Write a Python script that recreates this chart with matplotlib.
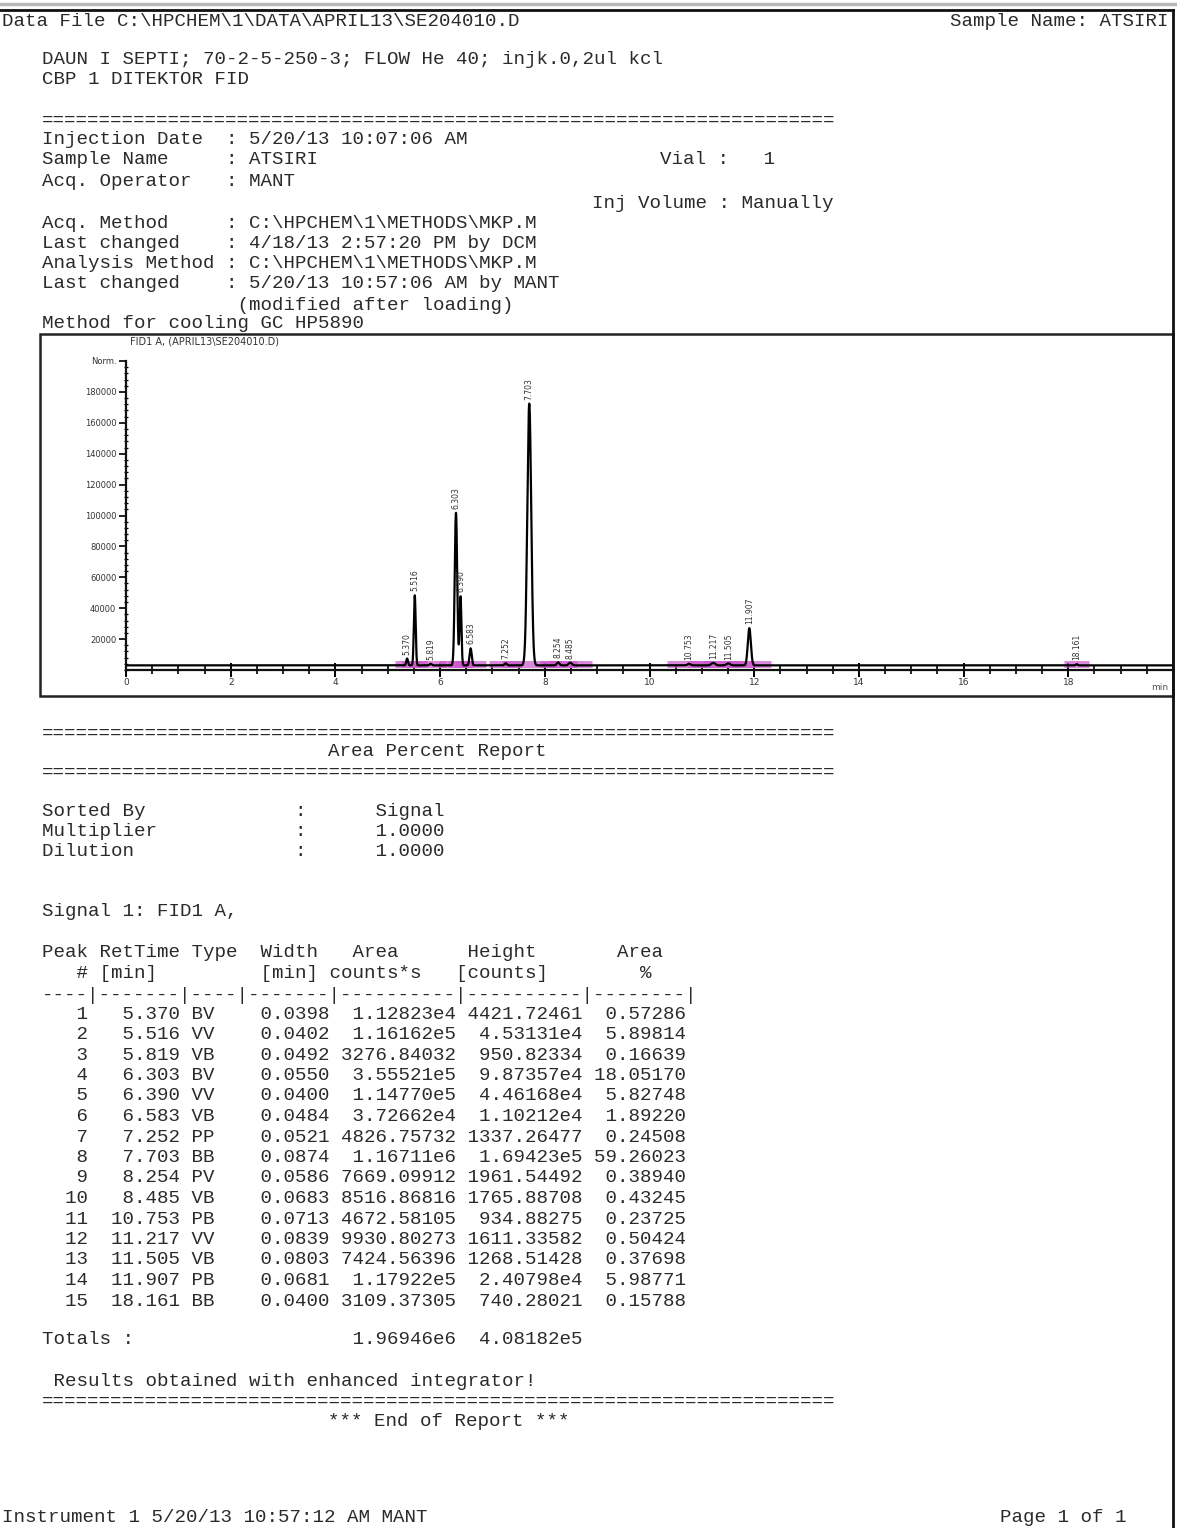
import numpy as np
import matplotlib
matplotlib.use("Agg")
import matplotlib.pyplot as plt
from matplotlib.lines import Line2D
from matplotlib.patches import Rectangle
from matplotlib.ticker import FixedLocator, MultipleLocator

peak_no = list(range(1, 16))
ret_time = [5.370, 5.516, 5.819, 6.303, 6.390, 6.583, 7.252, 7.703, 8.254, 8.485,
            10.753, 11.217, 11.505, 11.907, 18.161]
peak_type = ['BV', 'VV', 'VB', 'BV', 'VV', 'VB', 'PP', 'BB', 'PV', 'VB',
             'PB', 'VV', 'VB', 'PB', 'BB']
peak_width = [0.0398, 0.0402, 0.0492, 0.0550, 0.0400, 0.0484, 0.0521, 0.0874, 0.0586,
              0.0683, 0.0713, 0.0839, 0.0803, 0.0681, 0.0400]
area_txt = ['1.12823e4', '1.16162e5', '3276.84032', '3.55521e5', '1.14770e5', '3.72662e4',
            '4826.75732', '1.16711e6', '7669.09912', '8516.86816', '4672.58105', '9930.80273',
            '7424.56396', '1.17922e5', '3109.37305']
height_txt = ['4421.72461', '4.53131e4', '950.82334', '9.87357e4', '4.46168e4', '1.10212e4',
              '1337.26477', '1.69423e5', '1961.54492', '1765.88708', '934.88275', '1611.33582',
              '1268.51428', '2.40798e4', '740.28021']
area_pct = [0.57286, 5.89814, 0.16639, 18.05170, 5.82748, 1.89220, 0.24508, 59.26023,
            0.38940, 0.43245, 0.23725, 0.50424, 0.37698, 5.98771, 0.15788]
total_area_txt = '1.96946e6'
total_height_txt = '4.08182e5'
baseline_level = 3000          # detector baseline, counts
x_tick_vals = [0, 2, 4, 6, 8, 10, 12, 14, 16, 18]
y_tick_vals = [20000, 40000, 60000, 80000, 100000, 120000, 140000, 160000, 180000, 200000]
y_tick_labels = ['20000', '40000', '60000', '80000', '100000', '120000', '140000',
                 '160000', '180000', 'Norm.']

# ---------------- figure ----------------
W, H = 1177, 1528
fig = plt.figure(figsize=(W / 100, H / 100), dpi=100)
fig.patch.set_facecolor('white')

MONO = ['Liberation Mono', 'DejaVu Sans Mono']
FS = 13.74
CW = 11.45
X0 = 42
TXT = '#2a2a2a'


def T(x, y, s, **kw):
    opts = dict(family=MONO, fontsize=FS, color=TXT, ha='left', va='center')
    opts.update(kw)
    fig.text(x / W, 1 - y / H, s, **opts)


def L(col, y, s, **kw):
    T(X0 + col * CW, y, s, **kw)


# page borders
fig.add_artist(Line2D([0, 1], [1 - 4 / H] * 2, color='#b8b8b8', lw=2.5,
                      transform=fig.transFigure))
fig.add_artist(Line2D([0, 1173 / W], [1 - 10 / H] * 2, color='#111111', lw=2.0,
                      transform=fig.transFigure))
fig.add_artist(Line2D([1173 / W] * 2, [1 - 10 / H, 0], color='#111111', lw=2.0,
                      transform=fig.transFigure))

EQ = '=' * 69

# header
T(2, 22, r'Data File C:\HPCHEM\1\DATA\APRIL13\SE204010.D')
T(1168, 22, 'Sample Name: ATSIRI', ha='right')
L(0, 60, 'DAUN I SEPTI; 70-2-5-250-3; FLOW He 40; injk.0,2ul kcl')
L(0, 80, 'CBP 1 DITEKTOR FID')
L(0, 120, EQ)
L(0, 140, 'Injection Date  : 5/20/13 10:07:06 AM')
L(0, 160, 'Sample Name     : ATSIRI')
L(54, 160, 'Vial :   1')
L(0, 182, 'Acq. Operator   : MANT')
L(48, 204, 'Inj Volume : Manually')
L(0, 224, r'Acq. Method     : C:\HPCHEM\1\METHODS\MKP.M')
L(0, 244, 'Last changed    : 4/18/13 2:57:20 PM by DCM')
L(0, 264, r'Analysis Method : C:\HPCHEM\1\METHODS\MKP.M')
L(0, 284, 'Last changed    : 5/20/13 10:57:06 AM by MANT')
L(0, 305, ' ' * 17 + '(modified after loading)')
L(0, 324, 'Method for cooling GC HP5890')

# chromatogram frame
fig.add_artist(Rectangle((40 / W, 1 - 696 / H), (1173 - 40) / W, (696 - 334) / H,
                         transform=fig.transFigure, fill=False, ec='#222222', lw=1.8))
fig.text(130 / W, 1 - 342 / H, r'FID1 A, (APRIL13\SE204010.D)', fontsize=7,
         color='#333333', ha='left', va='center', family='DejaVu Sans')

ax = fig.add_axes([126 / W, 1 - 670 / H, (1173 - 126) / W, (670 - 361) / H])
ax.patch.set_alpha(0)
t = np.linspace(0, 20, 40001)
heights = np.array([float(s) for s in height_txt])
rts = np.array(ret_time)
sig = np.full_like(t, baseline_level, dtype=float)
for rt, w, h in zip(rts, peak_width, heights):
    s = w / 2.3548
    sig += h * np.exp(-0.5 * ((t - rt) / s) ** 2)

# integration baselines (magenta)
for rt, w in zip(rts, peak_width):
    ax.plot([rt - 6 * w, rt + 6 * w], [baseline_level + 900] * 2, color='#cc55cc',
            lw=5, alpha=0.7, solid_capstyle='butt', zorder=3)
ax.plot(t, sig, color='black', lw=1.6, zorder=4)

for rt, h in zip(rts, heights):
    apex = np.interp(rt, t, sig)
    ax.text(rt, apex + 2500, f'{rt:.3f}', rotation=90, ha='center', va='bottom',
            fontsize=5.5, color='#333333', family='DejaVu Sans', zorder=5)

ax.set_xlim(0, 20)
ax.set_ylim(0, 200000)
for sp in ['top', 'right']:
    ax.spines[sp].set_visible(False)
for sp in ['left', 'bottom']:
    ax.spines[sp].set_color('#111111')
    ax.spines[sp].set_linewidth(1.6)
ax.xaxis.set_major_locator(FixedLocator(x_tick_vals))
ax.set_xticklabels([str(v) for v in x_tick_vals])
ax.xaxis.set_minor_locator(MultipleLocator(0.5))
ax.yaxis.set_major_locator(FixedLocator(y_tick_vals))
ax.set_yticklabels(y_tick_labels)
ax.yaxis.set_minor_locator(MultipleLocator(4000))
ax.tick_params(axis='x', which='major', direction='inout', length=10, width=1.4,
               labelsize=6.5, labelcolor='#333333', pad=1)
ax.tick_params(axis='x', which='minor', direction='inout', length=6, width=1.2)
ax.tick_params(axis='y', which='major', direction='out', length=5, width=1.2,
               labelsize=6, labelcolor='#333333', pad=2)
ax.tick_params(axis='y', which='minor', direction='inout', length=3, width=0.9)
fig.text(1168 / W, 1 - 688 / H, 'min', fontsize=6.5, color='#555555', ha='right',
         va='center', family='DejaVu Sans')

# area percent report
L(0, 733, EQ)
L(25, 752, 'Area Percent Report')
L(0, 772, EQ)
L(0, 812, 'Sorted By             :      Signal')
L(0, 832, 'Multiplier            :      1.0000')
L(0, 852, 'Dilution              :      1.0000')
L(0, 912, 'Signal 1: FID1 A,')

header1 = 'Peak RetTime Type  Width   Area      Height       Area'
header2 = '   # [min]' + ' ' * 9 + '[min] counts*s   [counts]' + ' ' * 8 + '%'
sep = '----|-------|----|-------|----------|----------|--------|'
L(0, 953, header1)
L(0, 973, header2)
L(0, 995, sep)
for i, (n, rt, ty, w, a, h, p) in enumerate(zip(peak_no, ret_time, peak_type, peak_width,
                                                 area_txt, height_txt, area_pct)):
    row = f'{n:4d} {rt:7.3f} {ty:<4s} {w:7.4f} {a:>10s} {h:>10s} {p:8.5f}'
    L(0, 1014 + i * 20.5, row)

L(0, 1340, 'Totals :' + ' ' * 19 + total_area_txt + '  ' + total_height_txt)
L(0, 1381, ' Results obtained with enhanced integrator!')
L(0, 1401, EQ)
L(25, 1421, '*** End of Report ***')

T(2, 1518, 'Instrument 1 5/20/13 10:57:12 AM MANT')
T(1000, 1518, 'Page 1 of 1')

fig.savefig('out.png', dpi=100, facecolor='white')
